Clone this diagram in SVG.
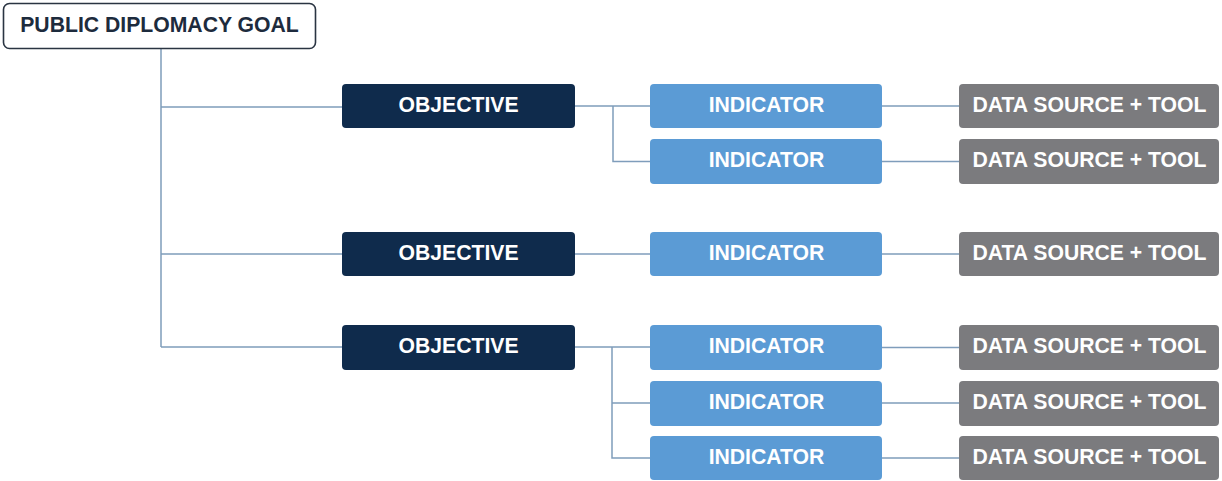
<svg xmlns="http://www.w3.org/2000/svg" width="1222" height="481" viewBox="0 0 1222 481">
<style>
.t{font-family:"Liberation Sans",Arial,sans-serif;font-weight:bold;font-size:21.2px;text-anchor:middle}
.goal{fill:#ffffff;stroke:#2a3442;stroke-width:1.6}
.obj{fill:#0f2b4c}
.ind{fill:#5b9bd5}
.src{fill:#7b7b7e}
.w{fill:#ffffff}
.d{fill:#1d2b3d}
.c{fill:none;stroke:#7f9dbb;stroke-width:1.5}
</style>
<rect width="1222" height="481" fill="#ffffff"/>
<g id="connectors">
<path class="c" d="M161 49V347M161 107H342M161 254H342M161 347H342"/>
<path class="c" d="M575 106H650M613 106V161.5H650"/>
<path class="c" d="M575 254H650"/>
<path class="c" d="M575 347H650M612 347V458H650M612 403H650"/>
<path class="c" d="M882 106H959M882 161.5H959M882 254H959M882 347.5H959M882 403H959M882 458H959"/>
</g>
<g id="goal"><rect class="goal" x="3.5" y="3.5" width="312" height="45" rx="6"/><text class="t d" x="159.5" y="32">PUBLIC DIPLOMACY GOAL</text></g>
<g id="obj1"><rect class="obj" x="342" y="84" width="233" height="44" rx="4"/><text class="t w" x="458.5" y="111.5">OBJECTIVE</text></g>
<g id="obj2"><rect class="obj" x="342" y="232" width="233" height="44" rx="4"/><text class="t w" x="458.5" y="259.5">OBJECTIVE</text></g>
<g id="obj3"><rect class="obj" x="342" y="325" width="233" height="45" rx="4"/><text class="t w" x="458.5" y="353">OBJECTIVE</text></g>
<g id="ind1"><rect class="ind" x="650" y="84" width="232" height="44" rx="4"/><text class="t w" x="766.5" y="111.5">INDICATOR</text></g>
<g id="ind2"><rect class="ind" x="650" y="139" width="232" height="45" rx="4"/><text class="t w" x="766.5" y="167">INDICATOR</text></g>
<g id="ind3"><rect class="ind" x="650" y="232" width="232" height="44" rx="4"/><text class="t w" x="766.5" y="259.5">INDICATOR</text></g>
<g id="ind4"><rect class="ind" x="650" y="325" width="232" height="45" rx="4"/><text class="t w" x="766.5" y="353">INDICATOR</text></g>
<g id="ind5"><rect class="ind" x="650" y="381" width="232" height="45" rx="4"/><text class="t w" x="766.5" y="408.5">INDICATOR</text></g>
<g id="ind6"><rect class="ind" x="650" y="436" width="232" height="44" rx="4"/><text class="t w" x="766.5" y="463.5">INDICATOR</text></g>
<g id="src1"><rect class="src" x="959" y="84" width="260" height="44" rx="4"/><text class="t w" x="1089.5" y="111.5">DATA SOURCE + TOOL</text></g>
<g id="src2"><rect class="src" x="959" y="139" width="260" height="45" rx="4"/><text class="t w" x="1089.5" y="167">DATA SOURCE + TOOL</text></g>
<g id="src3"><rect class="src" x="959" y="232" width="260" height="44" rx="4"/><text class="t w" x="1089.5" y="259.5">DATA SOURCE + TOOL</text></g>
<g id="src4"><rect class="src" x="959" y="325" width="260" height="45" rx="4"/><text class="t w" x="1089.5" y="353">DATA SOURCE + TOOL</text></g>
<g id="src5"><rect class="src" x="959" y="381" width="260" height="45" rx="4"/><text class="t w" x="1089.5" y="408.5">DATA SOURCE + TOOL</text></g>
<g id="src6"><rect class="src" x="959" y="436" width="260" height="44" rx="4"/><text class="t w" x="1089.5" y="463.5">DATA SOURCE + TOOL</text></g>
</svg>
